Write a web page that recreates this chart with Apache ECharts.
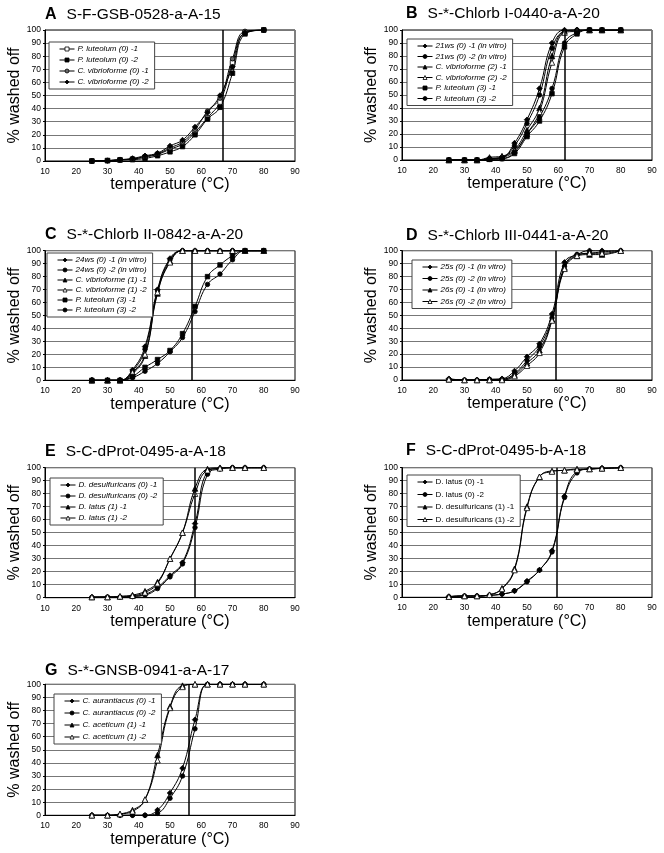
<!DOCTYPE html>
<html>
<head>
<meta charset="utf-8">
<script src="https://cdn.jsdelivr.net/npm/echarts@6/dist/echarts.min.js"></script>
<style>
html,body{margin:0;padding:0;background:#fff;}
#chart{width:664px;height:853px;}
</style>
</head>
<body>
<div id="chart"></div>
<script>
// ---------- DATA ----------
const temps = [25, 30, 34, 38, 42, 46, 50, 54, 58, 62, 66, 70, 74, 80];

const panelIds = ['A', 'B', 'C', 'D', 'E', 'F', 'G'];
const panelTitles = ['S-F-GSB-0528-a-A-15', 'S-*-Chlorb I-0440-a-A-20', 'S-*-Chlorb II-0842-a-A-20',
  'S-*-Chlorb III-0441-a-A-20', 'S-C-dProt-0495-a-A-18', 'S-C-dProt-0495-b-A-18', 'S-*-GNSB-0941-a-A-17'];
const tdValues = [67, 62, 57, 59.2, 58, 59.5, 56];

const namesA = ['P. luteolum (0) -1', 'P. luteolum (0) -2', 'C. vibrioforme (0) -1', 'C. vibrioforme (0) -2'];
const valsA = [
  [0, 0.3, 0.8, 1.5, 3, 5, 9, 13, 22, 33, 45, 75, 98, 100],
  [0, 0.3, 0.8, 1, 2, 4, 7, 11, 20, 32, 41, 67, 97, 100],
  [0, 0.3, 1, 1.5, 3.5, 5.5, 10, 14.5, 24, 38, 48, 78, 99, 100],
  [0, 0.3, 1, 2, 4, 6, 11.5, 16, 26, 37, 50, 72, 98, 100]
];

const namesB = ['21ws (0) -1 (in vitro)', '21ws (0) -2 (in vitro)', 'C. vibrioforme (2) -1', 'C. vibrioforme (2) -2', 'P. luteolum (3) -1', 'P. luteolum (3) -2'];
const valsB = [
  [0, 0, 0, 1, 2, 13, 31, 55, 90, 100, 100, 100, 100, 100],
  [0, 0, 0, 1, 2, 11, 28, 50, 86, 99, 100, 100, 100, 100],
  [0, 0, 0, 2, 3, 8, 23, 40, 80, 99, 100, 100, 100, 100],
  [0, 0, 0, 1, 2, 7, 20, 37, 75, 98, 99, 100, 100, 100],
  [0, 0, 0, 0.5, 1, 5, 18, 30, 51, 87, 97, 100, 100, 100],
  [0, 0, 0, 0.5, 1, 6, 20, 33, 55, 90, 98, 100, 100, 100]
];

const namesC = ['24ws (0) -1 (in vitro)', '24ws (0) -2 (in vitro)', 'C. vibrioforme (1) -1', 'C. vibrioforme (1) -2', 'P. luteolum (3) -1', 'P. luteolum (3) -2'];
const valsC = [
  [0, 0, 0, 8, 26, 70, 94, 100, 100, 100, 100, 100, 100, 100],
  [0, 0, 0, 7, 24, 69, 93, 100, 100, 100, 100, 100, 100, 100],
  [0, 0, 0, 5, 19, 67, 92, 100, 100, 100, 100, 100, 100, 100],
  [0, 0, 0, 6, 20, 68, 91, 100, 100, 100, 100, 100, 100, 100],
  [0, 0, 0, 3, 10, 16, 23, 36, 57, 80, 89, 96, 100, 100],
  [0, 0, 0, 2, 7, 13, 22, 33, 53, 74, 82, 93, 100, 100]
];

const namesD = ['25s (0) -1 (in vitro)', '25s (0) -2 (in vitro)', '26s (0) -1 (in vitro)', '26s (0) -2 (in vitro)'];
const valsD = [
  [1, 0, 0, 0.5, 1, 7, 18, 28, 51, 91, 97, 100, 100, 100],
  [0.5, 0, 0, 0.5, 0.5, 5, 15, 26, 48, 88, 97, 98, 99, 100],
  [0.5, 0, 0, 0, 0.5, 4, 13, 23, 47, 87, 96, 97, 97, 100],
  [0.5, 0, 0, 0, 0, 3, 11, 21, 46, 86, 96, 98, 98, 100]
];

const namesE = ['D. desulfuricans (0) -1', 'D. desulfuricans (0) -2', 'D. latus (1) -1', 'D. latus (1) -2'];
const valsE = [
  [0.3, 0.5, 0.5, 1, 2.5, 8, 17, 27, 57, 97, 99.5, 100, 100, 100],
  [0.3, 0.5, 0.5, 1, 2, 7, 16, 26, 54, 95, 99, 100, 100, 100],
  [0.5, 0.5, 1, 2, 5, 12, 30, 50, 84, 99, 100, 100, 100, 100],
  [0.5, 0.5, 1, 1.5, 4, 11, 30, 50, 80, 98, 99.5, 100, 100, 100]
];

const namesF = ['D. latus (0) -1', 'D. latus (0) -2', 'D. desulfuricans (1) -1', 'D. desulfuricans (1) -2'];
const valsF = [
  [0.5, 1, 1, 1.5, 2.5, 5, 12.5, 21, 36, 78, 97, 99, 99.5, 100],
  [0.5, 1, 1, 1.5, 2.5, 5, 12, 21, 35, 77, 96, 99, 99.5, 100],
  [0.5, 1, 1, 2, 7, 22, 70, 93, 97.5, 98, 99, 99, 99.5, 100],
  [0.5, 1, 1, 2, 6.5, 21, 69, 93, 97, 98, 98.5, 99, 99.5, 100]
];

const namesG = ['C. aurantiacus (0) -1', 'C. aurantiacus (0) -2', 'C. aceticum (1) -1', 'C. aceticum (1) -2'];
const valsG = [
  [0, 0, 0, 0, 0, 4, 17, 36, 73, 100, 100, 100, 100, 100],
  [0, 0, 0, 0, 0, 1.5, 13, 30, 66, 100, 100, 100, 100, 100],
  [0, 0, 1, 4, 12, 46, 83, 99, 100, 100, 100, 100, 100, 100],
  [0, 0, 1, 3, 12, 42, 82, 98, 100, 100, 100, 100, 100, 100]
];

const allNames = [namesA, namesB, namesC, namesD, namesE, namesF, namesG];
const allVals = [valsA, valsB, valsC, valsD, valsE, valsF, valsG];

// ---------- STYLE / LAYOUT ----------
const FONT = '"Liberation Sans", Arial, Helvetica, sans-serif';
const symbolsByPanel = [
  ['rectOpen', 'rect', 'circleGray', 'diamond'],
  ['diamond', 'circle', 'triangle', 'triangleOpen', 'rect', 'circle'],
  ['diamond', 'circle', 'triangle', 'triangleOpen', 'rect', 'circle'],
  ['diamond', 'circle', 'triangle', 'triangleOpen'],
  ['diamond', 'circle', 'triangle', 'triangleOpen'],
  ['diamond', 'circle', 'triangle', 'triangleOpen'],
  ['diamond', 'circle', 'triangle', 'triangleOpen']
];
const layout = [
  {left: 45, top: 30, h: 131, tx: 45, ty: 15, lgL: 49, lgT: 42, lgGap: 3, italic: true},
  {left: 402, top: 30, h: 130, tx: 406, ty: 14, lgL: 407, lgT: 39, lgGap: 2.5, italic: true},
  {left: 45, top: 250.7, h: 129.6, tx: 45, ty: 235, lgL: 47, lgT: 253, lgGap: 2, italic: true},
  {left: 402, top: 250.7, h: 129.3, tx: 406, ty: 236, lgL: 412, lgT: 260, lgGap: 3.5, italic: true},
  {left: 45, top: 467.7, h: 130, tx: 45, ty: 451.5, lgL: 50, lgT: 478, lgGap: 3, italic: true},
  {left: 402, top: 467.7, h: 129.6, tx: 406, ty: 451, lgL: 407, lgT: 475, lgGap: 4.5, italic: false},
  {left: 45, top: 684.3, h: 131, tx: 45, ty: 671, lgL: 54, lgT: 694, lgGap: 4, italic: true}
];

function symStyle(s) {
  switch (s) {
    case 'rectOpen': return {symbol: 'rect', size: 4.5, color: '#fff'};
    case 'rect': return {symbol: 'rect', size: 4.5, color: '#000'};
    case 'circleGray': return {symbol: 'circle', size: 4.5, color: '#666'};
    case 'circle': return {symbol: 'circle', size: 4.5, color: '#000'};
    case 'diamond': return {symbol: 'diamond', size: 5.5, color: '#000'};
    case 'triangle': return {symbol: 'triangle', size: 5.5, color: '#000'};
    case 'triangleOpen': return {symbol: 'triangle', size: 5.5, color: '#fff'};
  }
}

const grid = [], xAxis = [], yAxis = [], series = [], legend = [], title = [];
layout.forEach((L, i) => {
  grid.push({left: L.left, top: L.top, width: 250, height: L.h, show: true, borderColor: '#000', borderWidth: 1, backgroundColor: '#fff'});
  xAxis.push({
    gridIndex: i, type: 'value', min: 10, max: 90, interval: 10,
    name: 'temperature (\u00B0C)', nameLocation: 'middle', nameGap: 15,
    nameTextStyle: {fontFamily: FONT, fontSize: 16, color: '#000'},
    axisLine: {lineStyle: {color: '#000', width: 1}},
    axisTick: {show: false},
    axisLabel: {fontFamily: FONT, fontSize: 8.5, color: '#000', margin: 6},
    splitLine: {show: false}
  });
  yAxis.push({
    gridIndex: i, type: 'value', min: 0, max: 100, interval: 10,
    name: '% washed off', nameLocation: 'middle', nameGap: 21, nameRotate: 90,
    nameTextStyle: {fontFamily: FONT, fontSize: 16, color: '#000'},
    axisLine: {show: true, lineStyle: {color: '#000', width: 1}},
    axisTick: {show: true, length: 2, lineStyle: {color: '#000'}},
    axisLabel: {fontFamily: FONT, fontSize: 8.5, color: '#000', margin: 4},
    splitLine: {show: true, lineStyle: {color: '#777', width: 1}}
  });
  title.push({
    text: '{b|' + panelIds[i] + '}{n|' + panelTitles[i] + '}',
    left: L.tx, top: L.ty - 10, padding: 0,
    textStyle: {fontWeight: 'normal', rich: {
      b: {fontFamily: FONT, fontSize: 16, fontWeight: 'bold', color: '#000', lineHeight: 20, padding: [0, 10, 0, 0]},
      n: {fontFamily: FONT, fontSize: 15.5, fontWeight: 'normal', color: '#000', lineHeight: 20}
    }}
  });
  legend.push({
    data: allNames[i].map((nm, k) => {
      const st = symStyle(symbolsByPanel[i][k]);
      return {name: nm, itemStyle: {color: st.color, borderColor: '#000', borderWidth: 0.8}, lineStyle: {color: '#000', width: 1}};
    }),
    orient: 'vertical', left: L.lgL, top: L.lgT,
    itemWidth: 15, itemHeight: 5, itemGap: L.lgGap,
    padding: [3, 6, 3, 10],
    borderColor: '#444', borderWidth: 1, backgroundColor: '#fff',
    selectedMode: false,
    textStyle: {fontFamily: FONT, fontSize: 8, fontStyle: L.italic ? 'italic' : 'normal', color: '#000', lineHeight: 8, padding: [0, 0, 0, -2]}
  });
  allVals[i].forEach((vals, k) => {
    const st = symStyle(symbolsByPanel[i][k]);
    const s = {
      type: 'line', name: allNames[i][k], xAxisIndex: i, yAxisIndex: i,
      data: temps.map((t, j) => [t, vals[j]]),
      smooth: 0.45, symbol: st.symbol, symbolSize: st.size, showSymbol: true,
      lineStyle: {color: '#000', width: 1},
      itemStyle: {color: st.color, borderColor: '#000', borderWidth: 0.8},
      emphasis: {disabled: true}, animation: false, z: 3
    };
    if (k === 0) {
      s.markLine = {
        silent: true, symbol: 'none', label: {show: false}, animation: false,
        lineStyle: {color: '#000', width: 1.5, type: 'solid'},
        data: [{xAxis: tdValues[i]}]
      };
    }
    series.push(s);
  });
});

const chart = echarts.init(document.getElementById('chart'), null, {renderer: 'canvas'});
chart.setOption({animation: false, backgroundColor: '#fff', title, grid, xAxis, yAxis, legend, series});
</script>
</body>
</html>
